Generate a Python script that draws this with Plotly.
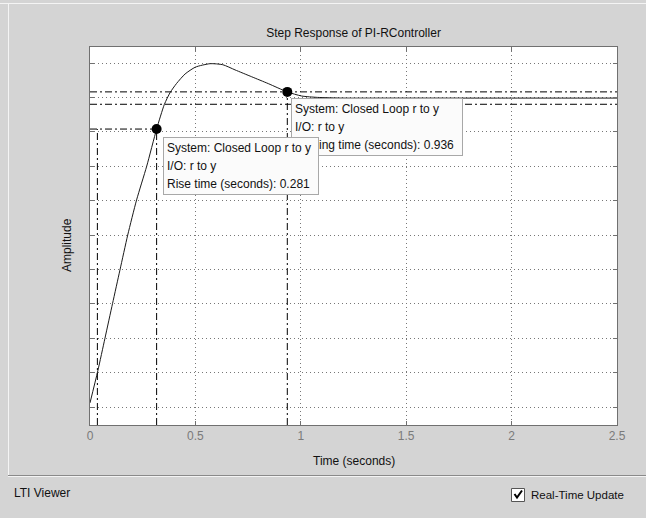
import plotly.graph_objects as go

# ---------------- data ----------------
time_s = [0.000, 0.037, 0.071, 0.107, 0.142, 0.179, 0.221, 0.269, 0.316, 0.353,
          0.380, 0.410, 0.451, 0.500, 0.570, 0.630, 0.688, 0.767, 0.846, 0.936,
          1.004, 1.080, 1.200, 1.400, 1.700, 2.000, 2.500]
amplitude = [0.012, 0.105, 0.200, 0.301, 0.398, 0.500, 0.602, 0.700, 0.808, 0.880,
             0.914, 0.940, 0.968, 0.988, 0.998, 0.995, 0.980, 0.960, 0.940, 0.916,
             0.904, 0.900, 0.898, 0.898, 0.898, 0.898, 0.898]

rise_t10 = 0.035
rise_t90 = 0.316
rise_level = 0.808
rise_time = 0.281
settle_time = 0.936
settle_upper = 0.916
settle_lower = 0.880

x_ticks = [0, 0.5, 1, 1.5, 2, 2.5]
x_tick_labels = ["0", "0.5", "1", "1.5", "2", "2.5"]
y_ticks = [0.0, 0.1, 0.2, 0.3, 0.4, 0.5, 0.6, 0.7, 0.8, 0.9, 1.0]
x_range = [0, 2.5]
y_range = [-0.0523, 1.0465]

# ---------------- layout helpers (pixel -> paper) ----------------
W, H = 646, 518
L, R, T, B = 90, 617, 47, 425


def px(xp):
    return (xp - L) / (R - L)


def py(yp):
    return (B - yp) / (B - T)


FONT = "Liberation Sans, Arial, sans-serif"
BG = "#d4d4d4"
DASHDOT = "7px,3px,2px,3px"

fig = go.Figure()

# step response curve
fig.add_trace(go.Scatter(x=time_s, y=amplitude, mode="lines",
                         line=dict(color="#1a1a1a", width=1, shape="spline", smoothing=0.6),
                         hoverinfo="skip", showlegend=False))

# rise-time characteristic lines
fig.add_trace(go.Scatter(x=[x_range[0], rise_t90], y=[rise_level, rise_level], mode="lines",
                         line=dict(color="black", width=1, dash=DASHDOT), showlegend=False))
fig.add_trace(go.Scatter(x=[rise_t10, rise_t10], y=[y_range[0], rise_level], mode="lines",
                         line=dict(color="black", width=1, dash=DASHDOT), showlegend=False))
fig.add_trace(go.Scatter(x=[rise_t90, rise_t90], y=[y_range[0], rise_level], mode="lines",
                         line=dict(color="black", width=1, dash=DASHDOT), showlegend=False))

# settling-time characteristic lines
fig.add_trace(go.Scatter(x=x_range, y=[settle_upper, settle_upper], mode="lines",
                         line=dict(color="black", width=1, dash=DASHDOT), showlegend=False))
fig.add_trace(go.Scatter(x=x_range, y=[settle_lower, settle_lower], mode="lines",
                         line=dict(color="black", width=1, dash=DASHDOT), showlegend=False))
fig.add_trace(go.Scatter(x=[settle_time, settle_time], y=[y_range[0], settle_upper], mode="lines",
                         line=dict(color="black", width=1, dash=DASHDOT), showlegend=False))

# markers
fig.add_trace(go.Scatter(x=[rise_t90, settle_time], y=[rise_level, settle_upper], mode="markers",
                         marker=dict(color="black", size=10), showlegend=False))


def box_text(lines):
    return "<br>".join('<span style="font-size:12px">%s</span>' % s for s in lines)


annotations = []
# settling-time datatip (drawn first, under the rise-time tip)
annotations.append(dict(
    x=0.9535, y=0.898, xref="x", yref="y", xanchor="left", yanchor="top",
    text=box_text(["System: Closed Loop r to y", "I/O: r to y",
                   "Settling time (seconds): %.3f" % settle_time]),
    showarrow=False, align="left", width=164, borderpad=3,
    bgcolor="#fbfbfb", bordercolor="#a8a8a8", borderwidth=1,
    font=dict(family=FONT, size=14, color="#111111")))
# rise-time datatip
annotations.append(dict(
    x=0.346, y=0.785, xref="x", yref="y", xanchor="left", yanchor="top",
    text=box_text(["System: Closed Loop r to y", "I/O: r to y",
                   "Rise time (seconds): %.3f" % rise_time]),
    showarrow=False, align="left", width=148, borderpad=3,
    bgcolor="#fbfbfb", bordercolor="#a8a8a8", borderwidth=1,
    font=dict(family=FONT, size=14, color="#111111")))

# axis titles
annotations.append(dict(x=0.5, y=py(461), xref="paper", yref="paper", text="Time (seconds)",
                        showarrow=False, xanchor="center", yanchor="middle",
                        font=dict(family=FONT, size=12, color="#111111")))
annotations.append(dict(x=px(67), y=py(245), xref="paper", yref="paper", text="Amplitude",
                        showarrow=False, xanchor="center", yanchor="middle", textangle=-90,
                        font=dict(family=FONT, size=12, color="#111111")))
# status bar texts
annotations.append(dict(x=px(12), y=py(493), xref="paper", yref="paper", text="LTI Viewer",
                        showarrow=False, xanchor="left", yanchor="middle",
                        font=dict(family=FONT, size=12, color="#111111")))
annotations.append(dict(x=px(529), y=py(495), xref="paper", yref="paper", text="Real-Time Update",
                        showarrow=False, xanchor="left", yanchor="middle",
                        font=dict(family=FONT, size=11.5, color="#111111")))

shapes = [
    # window frame highlights
    dict(type="line", xref="paper", yref="paper", x0=px(0), x1=px(646), y0=py(3.5), y1=py(3.5),
         line=dict(color="#f4f4f4", width=1)),
    dict(type="line", xref="paper", yref="paper", x0=px(8.5), x1=px(8.5), y0=py(3), y1=py(476),
         line=dict(color="#f4f4f4", width=1)),
    # status bar separator
    dict(type="line", xref="paper", yref="paper", x0=px(8), x1=px(646), y0=py(475.5), y1=py(475.5),
         line=dict(color="#8a8a8a", width=1)),
    dict(type="line", xref="paper", yref="paper", x0=px(8), x1=px(646), y0=py(476.5), y1=py(476.5),
         line=dict(color="#f4f4f4", width=1)),
    # checkbox
    dict(type="rect", xref="paper", yref="paper", x0=px(511.5), x1=px(524.5), y0=py(501.5), y1=py(488.5),
         fillcolor="white", line=dict(color="#555555", width=1)),
    dict(type="path", xref="paper", yref="paper",
         path="M %f,%f L %f,%f L %f,%f" % (px(514.5), py(494), px(517), py(497.5), px(522), py(490.5)),
         line=dict(color="black", width=2)),
]

fig.update_layout(
    width=W, height=H,
    margin=dict(l=L, r=W - R, t=T, b=H - B, pad=0),
    paper_bgcolor=BG, plot_bgcolor="white",
    title=dict(text="Step Response of PI-RController", x=0.5, xref="paper", xanchor="center",
               y=1 - 33 / H, yref="container", yanchor="middle",
               font=dict(family=FONT, size=12, color="#111111")),
    showlegend=False,
    annotations=annotations,
    shapes=shapes,
    font=dict(family=FONT, size=12),
)

fig.update_xaxes(range=x_range, tickvals=x_ticks, ticktext=x_tick_labels,
                 showgrid=True, gridcolor="#777777", griddash="1px,3px", gridwidth=1,
                 zeroline=False, showline=True, linecolor="#707070", linewidth=1, mirror="ticks",
                 ticks="inside", ticklen=4, tickcolor="#707070",
                 tickfont=dict(family=FONT, size=12, color="#7a7a7a"), fixedrange=True)
fig.update_yaxes(range=y_range, tickvals=y_ticks, showticklabels=False,
                 showgrid=True, gridcolor="#777777", griddash="1px,3px", gridwidth=1,
                 zeroline=False, showline=True, linecolor="#707070", linewidth=1, mirror="ticks",
                 ticks="inside", ticklen=4, tickcolor="#707070", fixedrange=True)

fig.write_html("out.html", config={"displayModeBar": False},
               post_script="document.body.style.margin='0';document.body.style.overflow='hidden';")
